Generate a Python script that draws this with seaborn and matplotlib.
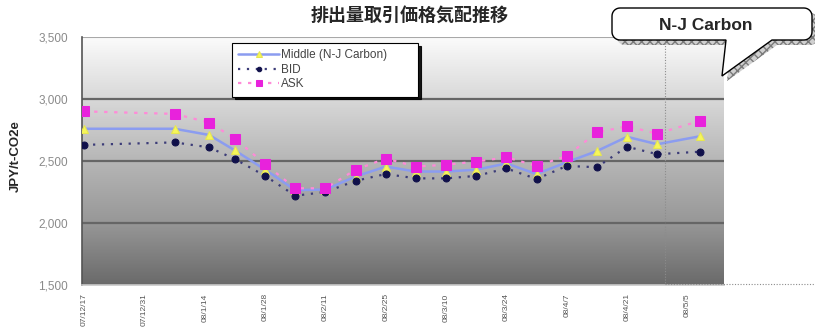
import numpy as np
import pandas as pd
import seaborn as sns
import matplotlib.pyplot as plt
from matplotlib.colors import LinearSegmentedColormap
from matplotlib.patches import Polygon
from matplotlib.lines import Line2D

# data (JPY/t-CO2e)
dates = ["2007-12-17", "2008-01-07", "2008-01-15", "2008-01-21", "2008-01-28",
         "2008-02-04", "2008-02-11", "2008-02-18", "2008-02-25", "2008-03-03",
         "2008-03-10", "2008-03-17", "2008-03-24", "2008-03-31", "2008-04-07",
         "2008-04-14", "2008-04-21", "2008-04-28", "2008-05-08"]
middle = [2760, 2760, 2710, 2585, 2430, 2265, 2270, 2375, 2455, 2415,
          2415, 2430, 2480, 2395, 2490, 2580, 2695, 2635, 2700]
bid = [2630, 2650, 2610, 2515, 2380, 2220, 2250, 2340, 2395, 2360,
       2360, 2380, 2440, 2355, 2460, 2450, 2615, 2555, 2575]
ask = [2900, 2880, 2810, 2680, 2475, 2280, 2280, 2430, 2520, 2455,
       2470, 2495, 2530, 2460, 2540, 2730, 2780, 2720, 2825]

tick_dates = ["2007-12-17", "2007-12-31", "2008-01-14", "2008-01-28", "2008-02-11",
              "2008-02-25", "2008-03-10", "2008-03-24", "2008-04-07", "2008-04-21",
              "2008-05-05"]
tick_labels = ["07/12/17", "07/12/31", "08/1/14", "08/1/28", "08/2/11", "08/2/25",
               "08/3/10", "08/3/24", "08/4/7", "08/4/21", "08/5/5"]

df = pd.DataFrame({"date": pd.to_datetime(dates), "Middle (N-J Carbon)": middle,
                   "BID": bid, "ASK": ask})

sns.set_style("white")
plt.rcParams['font.family'] = ['Liberation Sans', 'DejaVu Sans']

W, H = 815, 329
fig = plt.figure(figsize=(W / 100, H / 100), dpi=100)
ax = fig.add_axes([82 / W, 1 - 285 / H, (724 - 82) / W, (285 - 37) / H])

# gradient background
cmap = LinearSegmentedColormap.from_list(
    "bg", ["#fbfbfb", "#d8d8d8", "#b6b6b6", "#979797", "#6a6a6a"])
grad = np.linspace(0, 1, 256).reshape(-1, 1)
ax.imshow(grad, cmap=cmap, extent=[0, 1, 0, 1], transform=ax.transAxes,
          aspect="auto", origin="upper", zorder=0)

for yv in [2000, 2500, 3000]:
    ax.axhline(yv, color="#666666", lw=1.6, zorder=1)
ax.axhline(3500, color="#a8a8a8", lw=1.5, zorder=1)

sns.lineplot(data=df, x="date", y="Middle (N-J Carbon)", ax=ax, color="#8b9cf0",
             lw=1.8, marker="^", markersize=6, markerfacecolor="#f6f65a",
             markeredgecolor="#e6e650", label="Middle (N-J Carbon)", zorder=3)
sns.lineplot(data=df, x="date", y="BID", ax=ax, color="#3c3c78", lw=1.6,
             linestyle=(0, (1, 3)), marker="o", markersize=5,
             markerfacecolor="#10104a", markeredgecolor="#10104a",
             label="BID", zorder=4)
sns.lineplot(data=df, x="date", y="ASK", ax=ax, color="#ff8ad8", lw=1.6,
             linestyle=(0, (1.5, 3)), marker="s", markersize=6.5,
             markerfacecolor="#e822dc", markeredgecolor="#e822dc",
             label="ASK", zorder=5)

ax.set_xlim(pd.Timestamp("2007-12-16 12:00"), pd.Timestamp("2008-05-13 12:00"))
ax.set_ylim(1500, 3500)
ax.set_yticks([1500, 2000, 2500, 3000, 3500])
ax.set_yticklabels([f"{v:,}" for v in [1500, 2000, 2500, 3000, 3500]],
                   color="#8a8a8a", fontsize=8.5)
ax.set_xticks(pd.to_datetime(tick_dates))
ax.set_xticklabels(tick_labels, rotation=90, fontsize=6, color="#555555")
ax.tick_params(axis="y", length=0, pad=10)
ax.tick_params(axis="x", length=0, pad=6)
ax.set_xlabel("")
ax.set_ylabel("")
ax.grid(False)

for side in ["right", "top"]:
    ax.spines[side].set_visible(False)
ax.spines["left"].set_color("#555555")
ax.spines["left"].set_linewidth(1.2)
ax.spines["bottom"].set_color("#c8c8c8")
ax.spines["bottom"].set_linewidth(1.2)

leg = ax.legend(loc="upper left",
                bbox_to_anchor=(232 / W, 1 - 95 / H, 186 / W, 52 / H),
                bbox_transform=fig.transFigure, mode="expand", fontsize=8.5,
                frameon=True, fancybox=False,
                shadow={"color": "black", "alpha": 0.9},
                markerscale=0.65, handlelength=3.4, labelspacing=0.2,
                borderpad=0.55, handletextpad=0.2, borderaxespad=0)
leg.get_frame().set_edgecolor("black")
leg.get_frame().set_linewidth(0.8)
leg.get_frame().set_facecolor("white")
leg.get_frame().set_alpha(1)
for t in leg.get_texts():
    t.set_color("#444444")
leg.set_zorder(10)

fig.text(410 / W, 1 - 15 / H, "排出量取引価格気配推移", ha="center", va="center",
         fontsize=13, fontweight="bold",
         family=["Noto Sans CJK JP", "DejaVu Sans"])
fig.text(16 / W, 1 - 156 / H, "JPY/t-CO2e", ha="center", va="center",
         rotation=90, fontsize=9.5, fontweight="bold")

# dotted frame on the right
fig.add_artist(Line2D([665 / W, 665 / W], [1 - 40 / H, 1 - 284 / H],
                      transform=fig.transFigure, color="#8c8c8c", lw=0.8,
                      linestyle=(0, (1, 1.5))))
fig.add_artist(Line2D([665 / W, 1.0], [1 - 284 / H, 1 - 284 / H],
                      transform=fig.transFigure, color="#8c8c8c", lw=0.8,
                      linestyle=(0, (1, 1.5))))


# speech bubble "N-J Carbon"
def bubble(L, R, T, B, r, tail):
    T, B = H - T, H - B
    pts = []
    def arc(cx, cy, a0, a1):
        for a in np.linspace(np.radians(a0), np.radians(a1), 8):
            pts.append((cx + r * np.cos(a), cy + r * np.sin(a)))
    arc(L + r, B + r, 180, 270)
    for (tx, ty) in tail:
        pts.append((tx, H - ty))
    arc(R - r, B + r, 270, 360)
    arc(R - r, T - r, 0, 90)
    arc(L + r, T - r, 90, 180)
    return np.array(pts) / np.array([W, H])


tail = [(726, 40), (722, 76), (772, 40)]
shadow_pts = bubble(617, 818, 13, 45, 8, [(731, 45), (727, 81), (777, 45)])
fig.add_artist(Polygon(shadow_pts, closed=True, transform=fig.transFigure,
                       facecolor="#d0d0d0", edgecolor="#7a7a7a", hatch="xxxx",
                       lw=0))
fig.add_artist(Polygon(bubble(612, 812, 8, 40, 8, tail), closed=True,
                       transform=fig.transFigure, facecolor="white",
                       edgecolor="black", lw=1))
fig.text(706 / W, 1 - 25 / H, "N-J Carbon", ha="center", va="center",
         fontsize=12.5, fontweight="bold")

fig.savefig("out.png", dpi=100)
